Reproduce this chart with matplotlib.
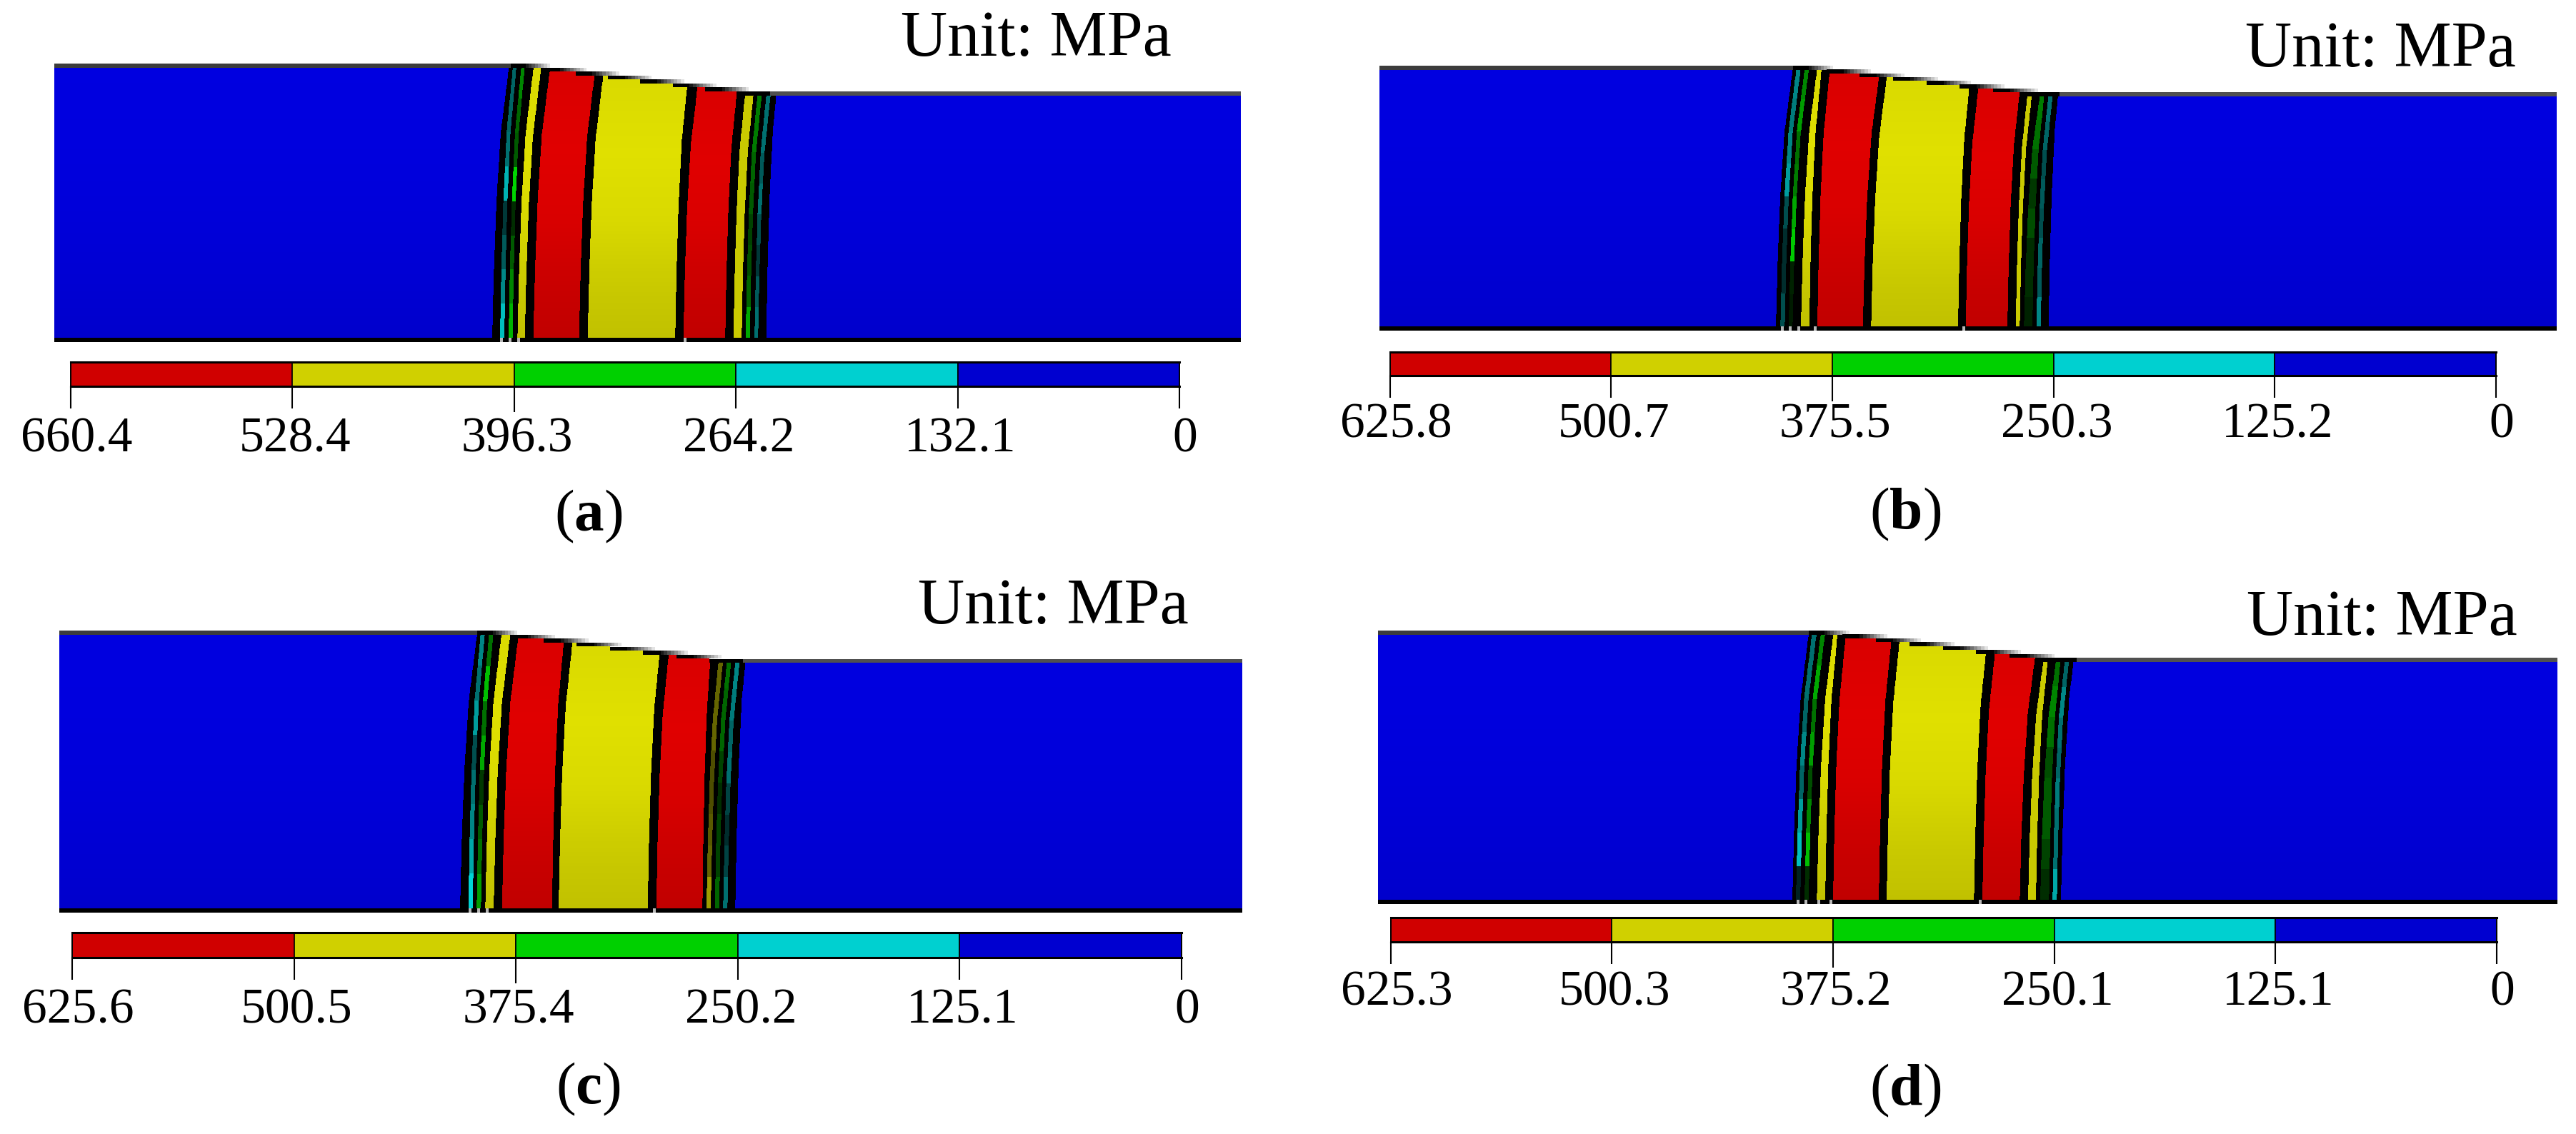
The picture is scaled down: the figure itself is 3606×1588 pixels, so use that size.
import numpy as np
import matplotlib
matplotlib.use("Agg")
import matplotlib.pyplot as plt
from matplotlib.transforms import ScaledTranslation

plt.rcParams['font.family'] = ['Liberation Serif', 'DejaVu Serif']
plt.rcParams['mathtext.fontset'] = 'custom'
plt.rcParams['mathtext.rm'] = 'Liberation Serif'
plt.rcParams['mathtext.bf'] = 'Liberation Serif:bold'

W, H = 3606, 1588

# stress levels of the legends (MPa)
levels_a = [660.4, 528.4, 396.3, 264.2, 132.1, 0]
levels_b = [625.8, 500.7, 375.5, 250.3, 125.2, 0]
levels_c = [625.6, 500.5, 375.4, 250.2, 125.1, 0]
levels_d = [625.3, 500.3, 375.2, 250.1, 125.1, 0]
legend_colors = ['#d00000', '#d0d000', '#00d000', '#00d0d0', '#0000d0']

# contour boundaries along the part, read at the bottom and at the top edge
bottom_a = [689, 700, 706, 712, 717.5, 724.4, 734.7, 746.6, 810.5, 822.7, 945.2, 956.7, 1015.2, 1026.7, 1038.2, 1043.9, 1049.7, 1056.2, 1061.2, 1072.6]
top_a = [712.9, 718.6, 723.2, 730.1, 734.7, 747.3, 757.7, 770.3, 833.4, 844.9, 963.6, 977, 1032.5, 1043.9, 1055.4, 1061.2, 1066.9, 1073.4, 1079.1, 1091]
bottom_b = [2486, 2492.3, 2498.3, 2504, 2509.3, 2521, 2532.7, 2544, 2607.7, 2619.3, 2741, 2751.7, 2810, 2821.7, 2827.3, 2833.3, 2845, 2850.7, 2856.7, 2867.7]
top_b = [2510, 2515.3, 2521, 2526.7, 2532.3, 2544, 2550, 2561.7, 2631.7, 2641.7, 2758.3, 2770, 2828.3, 2839, 2845, 2856.7, 2862.3, 2868.3, 2874, 2885]
bottom_c = [644, 655.7, 661.7, 667.3, 673.3, 679.3, 691, 702.7, 772.7, 782, 906.7, 918.7, 983.3, 989, 995, 1000.7, 1006.7, 1012.3, 1018.3, 1029.3]
top_c = [668.3, 673.3, 679, 685, 690.7, 702.3, 714.3, 726, 790, 801.7, 925, 936.7, 995, 1006.7, 1012.7, 1018.3, 1024, 1030, 1035.7, 1047.7]
bottom_d = [2509, 2514, 2520, 2526, 2531.7, 2543.3, 2555, 2566, 2630, 2641, 2763.3, 2775, 2827.3, 2839, 2850, 2856, 2868.3, 2873.3, 2879.3, 2885]
top_d = [2532.3, 2537.3, 2543.3, 2549.3, 2555, 2566.7, 2572.3, 2584, 2648.3, 2659.3, 2781.7, 2793.3, 2850, 2861.7, 2867.3, 2879.3, 2885, 2891, 2896.7, 2908.3]

# brightness of the thin stripes, eight blocks from top to bottom
cyan_l_a = [.45, .45, .5, .8, .25, .4, .6, .85]
green_l_a = [.6, .45, .4, .95, .2, .4, .6, .8]
yellow_r_a = [.9, .9, .9, .9, .9, .9, .9, .9]
green_r_a = [.55, .55, .45, .4, .3, .35, .45, .75]
cyan_r_a = [.5, .5, .4, .5, .35, .25, .4, .5]

cyan_l_b = [.6, .55, .6, .7, .35, .2, .2, .35]
green_l_b = [.6, .7, .5, .55, .75, .9, .15, .12]
yellow_r_b = [.9, .9, .9, .9, .9, .9, .9, .9]
green_r_b = [.55, .5, .4, .25, .35, .2, .2, .15]
cyan_r_b = [.5, .45, .35, .4, .35, .45, .4, .6]

cyan_l_c = [.6, .5, .7, .35, .5, .6, .75, .95]
green_l_c = [.5, .85, .5, .75, .25, .4, .5, .7]
yellow_r_c = [.45, .45, .45, .35, .35, .4, .45, .7]
green_r_c = [.5, .45, .45, .3, .2, .3, .3, .45]
cyan_r_c = [.6, .55, .45, .5, .3, .2, .3, .5]

cyan_l_d = [.5, .5, .45, .6, .45, .7, .85, .15]
green_l_d = [.6, .75, .5, .7, .35, .6, .85, .2]
yellow_r_d = [.9, .9, .9, .9, .9, .9, .9, .9]
green_r_d = [.5, .6, .5, .35, .4, .4, .3, .2]
cyan_r_d = [.45, .6, .5, .45, .55, .5, .5, .75]

# light marks in the black bottom line
gaps_a = [702.5, 714, 726, 959]
gaps_b = [2495, 2506, 2518, 2541, 2749]
gaps_c = [658, 670, 682, 916]
gaps_d = [2517, 2528, 2546, 2563, 2772]

# how the contours lean and how the large zones are shaded over the height
lean_t = [0, .25, .5, .75, 1]
lean_f = [0, .1, .25, .5, 1]
shade_t = [0, .3, .55, .8, 1]
shade_v = [.97, 1, .97, .9, .86]
shade_blue = [1, .99, .97, .94, .91]

RED = np.array([224, 0, 0]) / 255
YELLOW = np.array([224, 224, 0]) / 255
GREEN = np.array([0, 224, 0]) / 255
CYAN = np.array([0, 224, 224]) / 255
BLUE = np.array([0, 0, 224]) / 255
BLACK = np.array([0, 0, 0]) / 255


def px_rect(l, t, r, b):
    return [l / W, 1 - b / H, (r - l) / W, (b - t) / H]


def zone(a, xb, xt, ytop, ybot, color, blocks=None, shade=shade_v):
    """Draw one contour zone as a row-shaded mesh, xb and xt are (left, right)"""
    yy = np.linspace(ytop, ybot, 129)
    f = np.interp((ybot - yy) / (ybot - ytop), lean_t, lean_f)
    xl = xb[0] + (xt[0] - xb[0]) * f
    xr = xb[1] + (xt[1] - xb[1]) * f
    u = (yy[:-1] + yy[1:]) / 2
    u = (u - ytop) / (ybot - ytop)
    if blocks is None:
        s = np.interp(u, shade_t, shade)
    else:
        s = np.array(blocks)[np.minimum((u * len(blocks)).astype(int), len(blocks) - 1)]
    c = s[:, None, None] * color[None, None, :]
    a.pcolormesh(np.column_stack([xl, xr]), np.column_stack([yy, yy]), c,
                 shading='flat', antialiased=False, linewidth=0)


def model(box, yl, yr, ybot, x0, x1, bottom, top, cyan_l, green_l, yellow_r, green_r, cyan_r, gaps):
    l, r = box
    t_ax = yl - 14
    b_ax = ybot + 7
    a = fig.add_axes(px_rect(l, t_ax, r, b_ax))
    line = lambda x: yl + (yr - yl) * np.clip((x - x0) / (x1 - x0), 0, 1)

    # black lines between the zones
    zone(a, (bottom[0], bottom[-1]), (top[0], top[-1]), yl, ybot, BLACK)

    # the white step polygon below hides what the right zone has above the edge
    zone(a, (l, bottom[0]), (l, top[0]), yl, ybot, BLUE, shade=shade_blue)
    zone(a, (bottom[-1], r), (top[-1], r), yl, ybot, BLUE, shade=shade_blue)

    kinds = [(CYAN, cyan_l), (GREEN, green_l), (YELLOW, None), (RED, None), (YELLOW, None),
             (RED, None), (YELLOW, yellow_r), (GREEN, green_r), (CYAN, cyan_r)]
    for i, (col, blocks) in enumerate(kinds):
        xb = (bottom[2 * i + 1], bottom[2 * i + 2])
        xt = (top[2 * i + 1], top[2 * i + 2])
        zone(a, xb, xt, line(xt[0]), ybot, col, blocks)

    # stepped top edge
    n = 8
    xs = x0 + np.arange(n + 1) * (x1 - x0) / n
    ys = yl + np.arange(n) * (yr - yl) / (n - 1)
    a.fill_between(np.r_[l, xs[:-1], r], t_ax, np.r_[yl, ys, yr], step='post', color='w', lw=0)
    fade = np.r_[np.zeros(5), np.linspace(.1, 1, 9)]
    for i in range(n - 1):
        end = xs[i] + 1.45 * (xs[1] - xs[0])
        if i == 0:
            end = xs[i] + 1.3 * (xs[1] - xs[0])
        a.pcolormesh(np.linspace(xs[i], end, len(fade) + 1), [ys[i], ys[i] + 5.5],
                     fade[None, :], cmap='gray', vmin=0, vmax=1, antialiased=False)
    a.fill_between([xs[n - 1], x1], ys[n - 1], ys[n - 1] + 5.5, color='k', lw=0)
    a.fill_between([l, x0], yl, yl + 5.5, color='#3c3c3c', lw=0)
    a.fill_between([x1, r], yr, yr + 5.5, color='#505050', lw=0)

    # bottom line
    a.fill_between([l, r], ybot, ybot + 6, color='k', lw=0)
    for g in gaps:
        a.fill_between([g - 2, g + 2], ybot, ybot + 6, color='#b8b8b8', lw=0)

    a.set_xlim(l, r)
    a.set_ylim(b_ax, t_ax)
    a.axis('off')


def legend_bar(l, r, t, b, levels, base):
    a = fig.add_axes(px_rect(l, t + 1.5, r, b - 1.5))
    for i, col in enumerate(legend_colors):
        a.barh(0, levels[i] - levels[i + 1], left=levels[i + 1], height=1,
               color=col, edgecolor='k', linewidth=1.2)
    a.set_xlim(levels[0], levels[-1])
    a.set_ylim(-.5, .5)
    a.set_yticks([])
    a.set_xticks(levels)
    a.set_xticklabels(["{:g}".format(v) for v in levels])
    tick_px = 31
    a.tick_params(axis='x', length=tick_px * .72, width=1.5, labelsize=50,
                  pad=(base - b - tick_px) * .72)
    for i, tick in enumerate(a.xaxis.get_major_ticks()):
        tick.label1.set_verticalalignment('baseline')
        dx = 8 if i in (0, 5) else 4
        tick.label1.set_transform(tick.label1.get_transform() +
                                  ScaledTranslation(dx / 100, 0, fig.dpi_scale_trans))
    a.xaxis.get_major_ticks()[2].tick1line.set_markersize(36 * .72)
    for s in ('top', 'bottom'):
        a.spines[s].set_linewidth(2.2)
    for s in ('left', 'right'):
        a.spines[s].set_linewidth(1.4)


def put_text(x, y, s, size, ha='left'):
    fig.text(x / W, 1 - y / H, s, fontsize=size, ha=ha, va='baseline', color='k')


fig = plt.figure(figsize=(W / 100, H / 100), dpi=100, facecolor='w')

model((76, 1737), 89, 128, 473, 715, 1078, bottom_a, top_a, cyan_l_a, green_l_a, yellow_r_a, green_r_a, cyan_r_a, gaps_a)
model((1931, 3579), 92, 129, 457, 2510, 2883, bottom_b, top_b, cyan_l_b, green_l_b, yellow_r_b, green_r_b, cyan_r_b, gaps_b)
model((83, 1739), 883, 922.5, 1272, 668, 1040, bottom_c, top_c, cyan_l_c, green_l_c, yellow_r_c, green_r_c, cyan_r_c, gaps_c)
model((1929, 3580), 883, 921, 1260, 2532, 2907, bottom_d, top_d, cyan_l_d, green_l_d, yellow_r_d, green_r_d, cyan_r_d, gaps_d)

legend_bar(99, 1651, 505, 542, levels_a, 634)
legend_bar(1946, 3494, 491, 527, levels_b, 614)
legend_bar(101, 1654, 1304, 1342, levels_c, 1434)
legend_bar(1947, 3495, 1283, 1320, levels_d, 1409)

put_text(1261, 78, "Unit: MPa", 65)
put_text(3143, 93, "Unit: MPa", 65)
put_text(1285, 873, "Unit: MPa", 65)
put_text(3145, 889, "Unit: MPa", 65)

put_text(824, 743, r"($\mathbf{a}$)", 60, ha='center')
put_text(2667, 740, r"($\mathbf{b}$)", 60, ha='center')
put_text(823, 1545, r"($\mathbf{c}$)", 60, ha='center')
put_text(2667, 1547, r"($\mathbf{d}$)", 60, ha='center')

plt.savefig("out.png", dpi=100)
